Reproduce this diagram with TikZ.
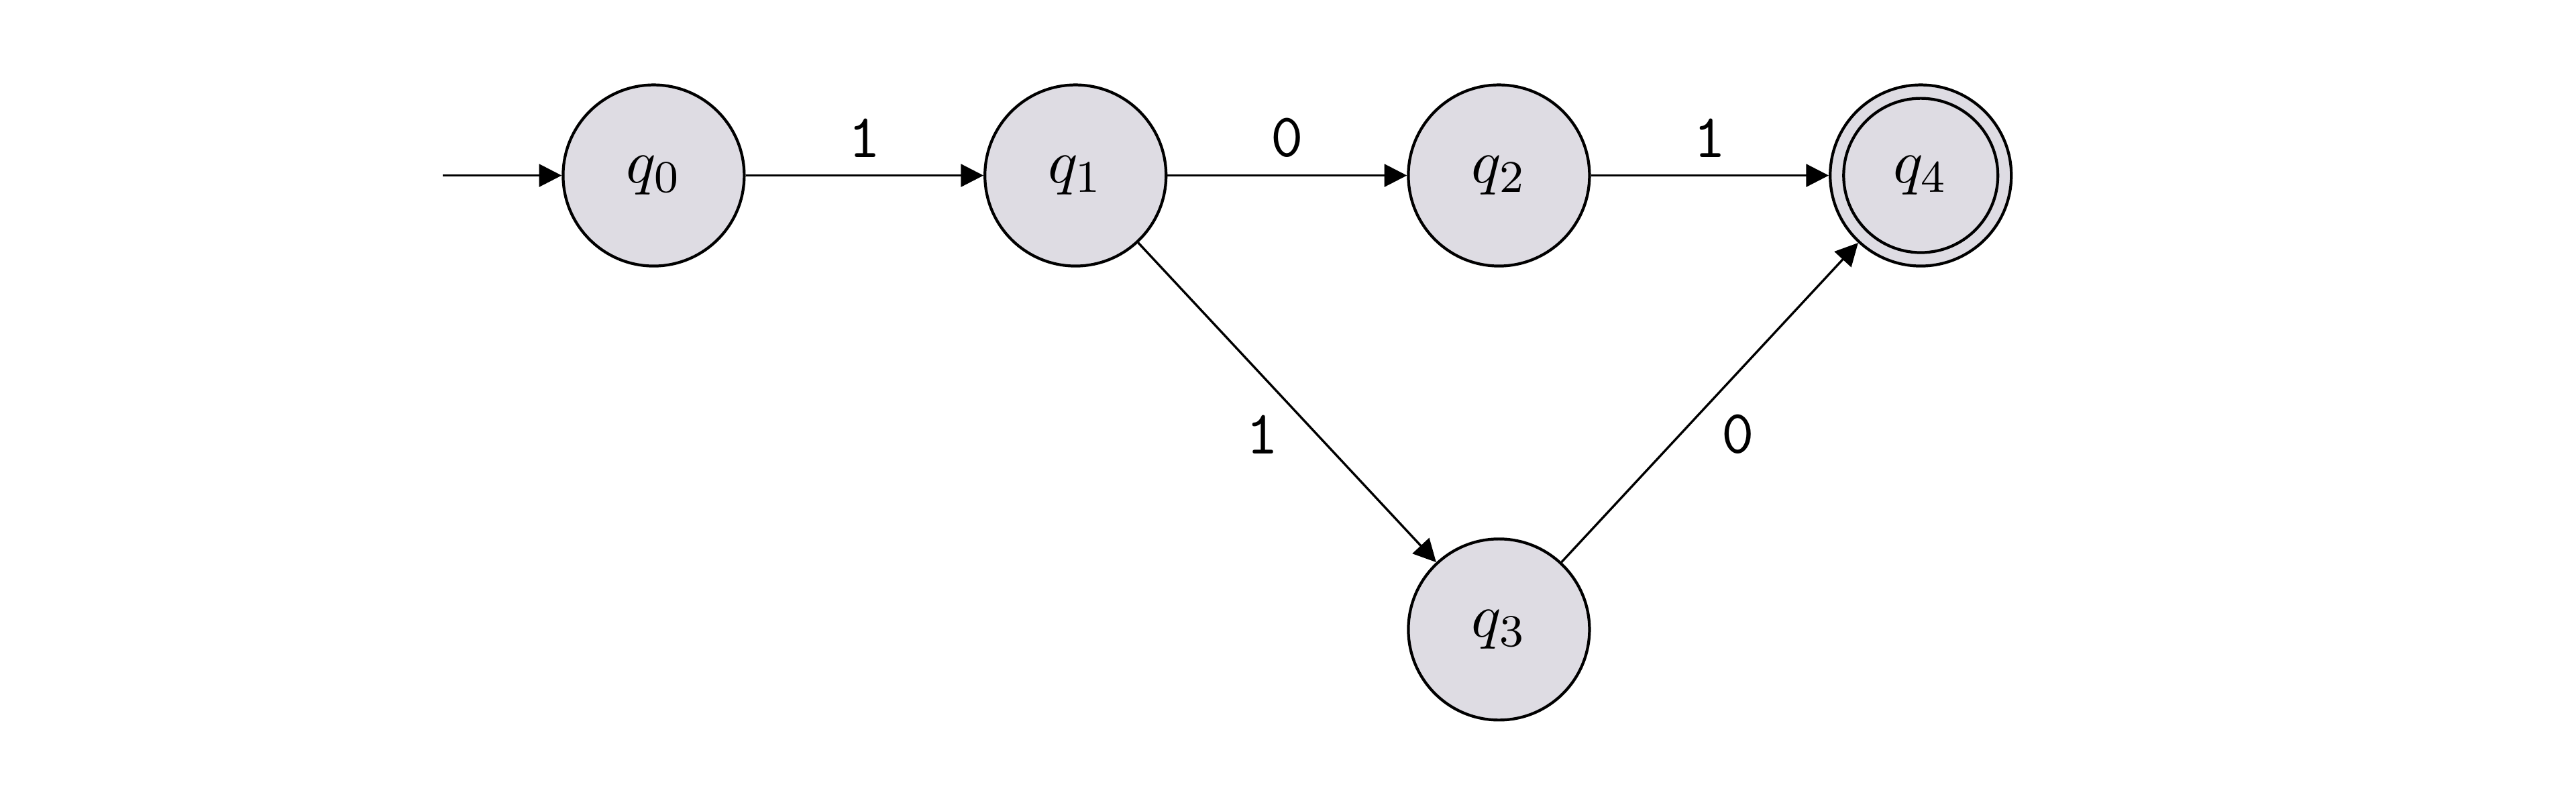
\documentclass[tikz,border=0pt]{standalone}
\usetikzlibrary{arrows.meta}
\definecolor{statefill}{RGB}{222,220,227}
\begin{document}
\begin{tikzpicture}[
  statenode/.style={circle, draw, fill=statefill, minimum size=1.125cm, inner sep=0pt, line width=0.5pt, font=\fontsize{11.3pt}{13pt}\selectfont},
  edge/.style={-{Triangle[length=4pt,width=4pt]}, line width=0.4pt},
  lab/.style={font=\fontsize{10.95pt}{13pt}\selectfont\ttfamily, inner sep=2pt}
]
\useasboundingbox (0,0) rectangle (16,5);
\node[statenode] (q0) at (4.06,3.91) {$q_0$};
\node[statenode] (q1) at (6.68,3.91) {$q_1$};
\node[statenode] (q2) at (9.31,3.91) {$q_2$};
\node[statenode] (q4) at (11.93,3.91) {};
\draw[line width=0.5pt] (q4.center) circle (0.479cm);
\node[font=\fontsize{11.3pt}{13pt}\selectfont] at (q4.center) {$q_4$};
\node[statenode] (q3) at (9.31,1.09) {$q_3$};
\coordinate (start) at (2.75,3.91);
\draw[edge] (start) -- (q0);
\draw[edge] (q0) -- node[lab, above=1pt] {1} (q1);
\draw[edge] (q1) -- node[lab, above=1pt] {0} (q2);
\draw[edge] (q2) -- node[lab, above=1pt] {1} (q4);
\draw[edge] (q1) -- node[lab, pos=0.6, left=0.16cm] {1} (q3);
\draw[edge] (q3) -- node[lab, pos=0.4, right=0.18cm] {0} (q4);
\end{tikzpicture}
\end{document}
